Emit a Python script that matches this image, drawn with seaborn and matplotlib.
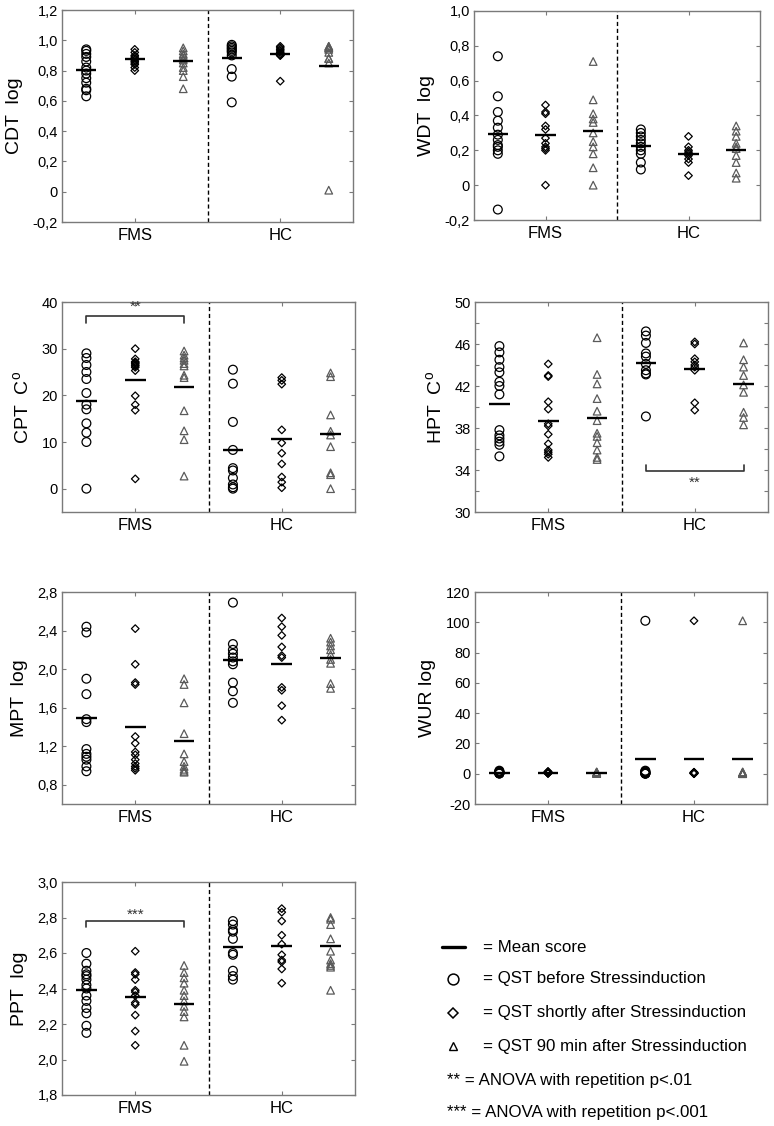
import numpy as np
import pandas as pd
import matplotlib
matplotlib.use("Agg")
import matplotlib.pyplot as plt
import seaborn as sns
from matplotlib.ticker import FixedLocator, FuncFormatter

sns.set_theme(style="white")
plt.rcParams["font.family"] = ["Liberation Sans", "DejaVu Sans"]
plt.rcParams["mathtext.default"] = "regular"

# ---------------- data ----------------
groups = ["FMS", "HC"]
conditions = ["QST before Stressinduction", "QST shortly after Stressinduction",
              "QST 90 min after Stressinduction"]

cdt_fms = [[0.94, 0.93, 0.91, 0.89, 0.86, 0.82, 0.80, 0.78, 0.75, 0.72, 0.68, 0.67, 0.63],
           [0.94, 0.92, 0.90, 0.89, 0.88, 0.87, 0.86, 0.85, 0.84, 0.82, 0.80],
           [0.95, 0.93, 0.91, 0.90, 0.88, 0.87, 0.85, 0.82, 0.80, 0.76, 0.68]]
cdt_hc = [[0.97, 0.96, 0.95, 0.94, 0.93, 0.92, 0.90, 0.81, 0.76, 0.59],
          [0.96, 0.95, 0.94, 0.93, 0.92, 0.91, 0.90, 0.90, 0.73],
          [0.96, 0.96, 0.95, 0.95, 0.94, 0.92, 0.88, 0.88, 0.85, 0.01]]
cdt_means = [0.803, 0.874, 0.863, 0.880, 0.909, 0.832]

wdt_fms = [[0.74, 0.51, 0.42, 0.37, 0.33, 0.29, 0.26, 0.23, 0.22, 0.20, 0.18, -0.14],
           [0.46, 0.42, 0.41, 0.34, 0.32, 0.27, 0.24, 0.22, 0.21, 0.20, 0.0],
           [0.71, 0.49, 0.41, 0.38, 0.36, 0.30, 0.25, 0.22, 0.18, 0.10, 0.0]]
wdt_hc = [[0.32, 0.30, 0.28, 0.26, 0.24, 0.22, 0.20, 0.18, 0.13, 0.09],
          [0.28, 0.22, 0.20, 0.19, 0.18, 0.17, 0.15, 0.13, 0.055],
          [0.34, 0.31, 0.28, 0.24, 0.22, 0.21, 0.17, 0.13, 0.07, 0.04]]
wdt_means = [0.296, 0.288, 0.311, 0.223, 0.177, 0.204]

cpt_fms = [[29, 28, 26.5, 25, 23.5, 20.5, 18, 17, 14, 12, 10, 0],
           [30, 27.8, 27.2, 27, 26.8, 26.5, 26.3, 26, 25.3, 19.9, 18, 16.8, 2.1],
           [29.5, 28.6, 28, 27.5, 26.8, 26.3, 24.3, 23.8, 16.7, 12.4, 10.5, 2.7]]
cpt_hc = [[25.5, 22.5, 14.3, 8.3, 4.4, 3.9, 2.3, 0.9, 0.3, 0],
          [23.8, 23.2, 22.4, 12.6, 9.8, 7.6, 5.3, 2.5, 1.4, 0.2],
          [24.8, 24, 15.8, 12.3, 11.5, 9, 3.4, 3, 0]]
cpt_means = [18.76, 23.37, 21.88, 8.31, 10.73, 11.72]

hpt_fms = [[45.8, 45.2, 44.5, 43.8, 43.3, 42.4, 42.0, 41.2, 37.8, 37.3, 37.0, 36.7, 36.4, 35.3],
           [44.1, 43, 42.9, 40.5, 39.8, 38.4, 38.2, 37.4, 36.5, 35.9, 35.7, 35.5, 35.2],
           [46.6, 43.1, 42.2, 40.8, 39.6, 38.7, 37.5, 37.2, 36.6, 35.9, 35.2, 35.0]]
hpt_hc = [[47.2, 46.8, 46.1, 45.1, 44.8, 44.1, 43.5, 43.2, 43.1, 39.1],
          [46.2, 46.0, 44.6, 44.3, 44.0, 43.8, 43.5, 40.4, 39.7],
          [46.1, 44.5, 43.8, 43.0, 42.1, 41.4, 39.5, 39.0, 38.3]]
hpt_means = [40.29, 38.67, 38.95, 44.22, 43.65, 42.19]

mpt_fms = [[2.44, 2.38, 1.90, 1.74, 1.48, 1.45, 1.17, 1.12, 1.09, 1.06, 0.99, 0.94],
           [2.42, 2.05, 1.86, 1.84, 1.30, 1.23, 1.14, 1.11, 1.06, 1.02, 0.99, 0.97, 0.95],
           [1.90, 1.84, 1.65, 1.33, 1.12, 1.04, 0.99, 0.96, 0.94, 0.93]]
mpt_hc = [[2.69, 2.26, 2.20, 2.16, 2.12, 2.08, 2.05, 1.86, 1.77, 1.65],
          [2.53, 2.44, 2.35, 2.23, 2.14, 2.12, 1.81, 1.78, 1.62, 1.47],
          [2.32, 2.28, 2.24, 2.20, 2.15, 2.10, 2.06, 1.85, 1.80]]
mpt_means = [1.491, 1.394, 1.255, 2.090, 2.052, 2.114]

wur_fms = [[2.0, 1.5, 1.2, 1.0, 0.8, 0.6, 0.5, 0.3, 0.2, 0.1],
           [1.5, 1.2, 1.0, 0.8, 0.6, 0.5, 0.4, 0.3, 0.2],
           [1.2, 1.0, 0.8, 0.6, 0.5, 0.3, 0.2, 0.1]]
wur_hc = [[101, 2.0, 1.5, 1.0, 0.8, 0.5, 0.3, 0.2, 0.1, 0.0],
          [101, 1.0, 0.8, 0.6, 0.5, 0.4, 0.3, 0.2, 0.1, 0.0],
          [101, 1.2, 0.9, 0.6, 0.5, 0.4, 0.3, 0.2, 0.1, 0.0]]
wur_means = [0.5, 0.5, 0.4, 10.0, 9.8, 9.8]

ppt_fms = [[2.60, 2.54, 2.50, 2.48, 2.47, 2.45, 2.42, 2.40, 2.36, 2.33, 2.29, 2.26, 2.19, 2.15],
           [2.61, 2.49, 2.48, 2.45, 2.39, 2.38, 2.36, 2.32, 2.31, 2.25, 2.16, 2.08],
           [2.53, 2.49, 2.46, 2.43, 2.39, 2.36, 2.33, 2.30, 2.27, 2.24, 2.08, 1.99]]
ppt_hc = [[2.78, 2.76, 2.73, 2.72, 2.68, 2.60, 2.59, 2.50, 2.47, 2.45],
          [2.85, 2.83, 2.78, 2.70, 2.65, 2.59, 2.56, 2.55, 2.51, 2.43],
          [2.80, 2.79, 2.76, 2.68, 2.61, 2.56, 2.54, 2.53, 2.52, 2.39]]
ppt_means = [2.393, 2.350, 2.314, 2.632, 2.641, 2.637]

legend_texts = ["= Mean score", "= QST before Stressinduction",
                "= QST shortly after Stressinduction", "= QST 90 min after Stressinduction",
                "** = ANOVA with repetition p<.01", "*** = ANOVA with repetition p<.001"]

# ---------------- layout / styling ----------------
W, H = 774, 1126
fig = plt.figure(figsize=(W / 100, H / 100), dpi=100)
fig.patch.set_facecolor("white")

# legend overlay axes in pixel coordinates
lax = fig.add_axes([0, 0, 1, 1])
lax.set_xlim(0, W)
lax.set_ylim(H, 0)
lax.axis("off")
lax.patch.set_alpha(0)

SPINE = "#7a7a7a"
TRI = "#5a5a5a"
marker_style = [dict(marker="o", s=40, edgecolor="black"),
                dict(marker="D", s=15, edgecolor="black"),
                dict(marker="^", s=30, edgecolor=TRI)]
offsets = [0.5, 1.5, 2.5]
group_base = [0.0, 3.0]


def comma_fmt(decimals):
    def f(v, pos):
        if abs(v) < 1e-9:
            return "0"
        if decimals == 0:
            return f"{v:.0f}"
        return f"{v:.{decimals}f}".replace(".", ",")
    return f


def make_panel(box, fms, hc, means, ylabel, ylim, yticks, decimals, minor=None):
    x0, x1, y0, y1 = box
    ax = fig.add_axes([x0 / W, 1 - y1 / H, (x1 - x0) / W, (y1 - y0) / H])
    ax.set_facecolor("white")
    k = 0
    for gi, gdata in enumerate([fms, hc]):
        for ci, vals in enumerate(gdata):
            xpos = group_base[gi] + offsets[ci]
            df = pd.DataFrame({"x": [xpos] * len(vals), "y": vals})
            st = marker_style[ci]
            sns.scatterplot(data=df, x="x", y="y", ax=ax, marker=st["marker"], s=st["s"],
                            facecolor="none", edgecolor=st["edgecolor"], linewidth=0.9,
                            legend=False, zorder=3)
            ax.hlines(means[k], xpos - 0.21, xpos + 0.21, color="black", lw=1.7, zorder=4)
            k += 1
    ax.axvline(3.0, color="black", lw=1.0, ls=(0, (3, 2)), zorder=2)
    ax.set_xlim(0, 6)
    ax.set_ylim(*ylim)
    ax.xaxis.set_major_locator(FixedLocator([1.5, 4.5]))
    ax.set_xticklabels(groups)
    ax.yaxis.set_major_locator(FixedLocator(yticks))
    ax.yaxis.set_major_formatter(FuncFormatter(comma_fmt(decimals)))
    if minor is not None:
        ax.yaxis.set_minor_locator(FixedLocator(minor))
    ax.tick_params(axis="both", which="both", direction="in", length=3, width=0.8,
                   color=SPINE, top=True, right=True, bottom=True, left=True)
    ax.tick_params(axis="y", labelsize=10.5, pad=3, labelcolor="black")
    ax.tick_params(axis="x", labelsize=12, pad=4, labelcolor="black")
    ax.set_xlabel("")
    ax.set_ylabel(ylabel, fontsize=14, labelpad=7, color="black")
    for sp in ax.spines.values():
        sp.set_color(SPINE)
        sp.set_linewidth(1.0)
        sp.set_visible(True)
    return ax


LX0, LX1 = 62, 355
RX0, RX1 = 475, 767
rows = [(10, 222), (302, 512), (592, 804), (882, 1095)]

ax_cdt = make_panel((LX0, 353, *rows[0]), cdt_fms, cdt_hc, cdt_means, "CDT  log",
                    (-0.2, 1.2), [-0.2, 0, 0.2, 0.4, 0.6, 0.8, 1.0, 1.2], 1)
ax_wdt = make_panel((474, 760, 11, 220), wdt_fms, wdt_hc, wdt_means, "WDT  log",
                    (-0.2, 1.0), [-0.2, 0, 0.2, 0.4, 0.6, 0.8, 1.0], 1)
ax_cpt = make_panel((LX0, LX1, *rows[1]), cpt_fms, cpt_hc, cpt_means, "CPT  C$^{o}$",
                    (-5, 40), [0, 10, 20, 30, 40], 0)
ax_hpt = make_panel((RX0, RX1 + 1, *rows[1]), hpt_fms, hpt_hc, hpt_means, "HPT  C$^{o}$",
                    (30, 50), [30, 34, 38, 42, 46, 50], 0, minor=[32, 36, 40, 44, 48])
ax_mpt = make_panel((LX0, LX1, *rows[2]), mpt_fms, mpt_hc, mpt_means, "MPT  log",
                    (0.6, 2.8), [0.8, 1.2, 1.6, 2.0, 2.4, 2.8], 1)
ax_wur = make_panel((RX0, RX1, *rows[2]), wur_fms, wur_hc, wur_means, "WUR log",
                    (-20, 120), [-20, 0, 20, 40, 60, 80, 100, 120], 0)
ax_ppt = make_panel((LX0, LX1, *rows[3]), ppt_fms, ppt_hc, ppt_means, "PPT  log",
                    (1.8, 3.0), [1.8, 2.0, 2.2, 2.4, 2.6, 2.8, 3.0], 1)

# significance brackets
def bracket(ax, xa, xb, y, tick, label, ty):
    ax.plot([xa, xa, xb, xb], [y + tick, y, y, y + tick], color="#333333", lw=1.2, zorder=5)
    ax.text((xa + xb) / 2, ty, label, ha="center", va="center", fontsize=11, color="#333333")

bracket(ax_cpt, 0.5, 2.5, 37.0, -1.5, "**", 38.9)
bracket(ax_ppt, 0.5, 2.5, 2.78, -0.035, "***", 2.818)
bracket(ax_hpt, 3.5, 5.5, 33.9, 0.6, "**", 32.8)

# ---------------- legend ----------------
leg_y = [947, 979, 1013, 1046, 1080, 1112]
lax.plot([442, 465], [leg_y[0], leg_y[0]], color="black", lw=2.4)
lax.plot([453], [leg_y[1]], marker="o", ms=7.8, mfc="none", mec="black", mew=1.1)
lax.plot([453], [leg_y[2]], marker="D", ms=5.0, mfc="none", mec="black", mew=1.1)
lax.plot([453], [leg_y[3]], marker="^", ms=6.4, mfc="none", mec="black", mew=1.0)
for i in range(4):
    lax.text(483, leg_y[i], legend_texts[i], ha="left", va="center", fontsize=12.2, color="black")
lax.text(447, leg_y[4], legend_texts[4], ha="left", va="center", fontsize=12.2, color="black")
lax.text(447, leg_y[5], legend_texts[5], ha="left", va="center", fontsize=12.2, color="black")

fig.savefig("out.png", dpi=100, facecolor="white")
